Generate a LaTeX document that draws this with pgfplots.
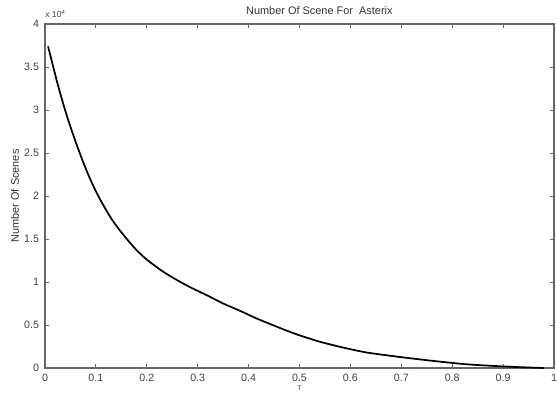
\documentclass[border=0pt]{standalone}
\usepackage{fontspec}
\setmainfont{Liberation Sans}
\usepackage{pgfplots}
\pgfplotsset{compat=1.18}
\begin{document}
\begin{tikzpicture}
\begin{axis}[
  scale only axis,
  width=381.75pt, height=258pt,
  xmin=0, xmax=1, ymin=0, ymax=40000,
  xtick={0,0.1,0.2,0.3,0.4,0.5,0.6,0.7,0.8,0.9,1},
  xticklabels={0,0.1,0.2,0.3,0.4,0.5,0.6,0.7,0.8,0.9,1},
  ytick={0,5000,10000,15000,20000,25000,30000,35000,40000},
  yticklabels={0,0.5,1,1.5,2,2.5,3,3.5,4},
  scaled y ticks=false,
  tick align=inside,
  major tick length=3pt,
  axis line style={black!60, line width=0.8pt},
  tick style={black!60, line width=0.6pt},
  ticklabel style={font=\fontsize{8}{9}\selectfont, text=black!75},
  xticklabel style={yshift=-1pt},
  yticklabel style={xshift=-1pt},
  title={Number Of Scene For\ \ Asterix},
  every axis title/.style={at={(rel axis cs:0.539,1)}, anchor=base, yshift=6.75pt, font=\fontsize{8.2}{9}\selectfont, text=black!80},
  ylabel={Number Of Scenes},
  every axis y label/.style={at={(rel axis cs:0,0.5)}, rotate=90, anchor=center, yshift=22.5pt, font=\fontsize{8.2}{9}\selectfont, text=black!80},
  xlabel={T},
  every axis x label/.style={at={(rel axis cs:0.5,0)}, anchor=center, yshift=-15.5pt, font=\fontsize{5}{6}\selectfont, text=black!80},
  clip=false,
]
\addplot[black, line width=1.3pt, smooth, tension=0.4] coordinates {
(0.006,37400) (0.015,35300) (0.024,33200) (0.033,31300) (0.042,29500)
(0.052,27700) (0.062,26000) (0.072,24400) (0.082,22900) (0.092,21550)
(0.100,20550) (0.111,19300) (0.130,17400) (0.147,16000) (0.165,14700)
(0.180,13700) (0.200,12600) (0.232,11200) (0.260,10200) (0.285,9400)
(0.320,8400) (0.350,7500) (0.385,6600) (0.416,5750) (0.468,4500)
(0.500,3800) (0.540,3050) (0.586,2370) (0.632,1800) (0.697,1280)
(0.763,820) (0.828,430) (0.894,200) (0.940,80) (0.980,0)
};
\node[anchor=base west, inner sep=0pt, font=\fontsize{6.5}{7}\selectfont, text=black!75] at ([yshift=4.5pt]rel axis cs:0,1) {x 10\raisebox{0.7ex}{\fontsize{4.5}{5}\selectfont 4}};
\end{axis}
\pgfresetboundingbox
\path[use as bounding box] ([shift={(-33.75pt,-19.5pt)}]current axis.south west) rectangle ([shift={(2.25pt,18pt)}]current axis.north east);
\end{tikzpicture}
\end{document}
